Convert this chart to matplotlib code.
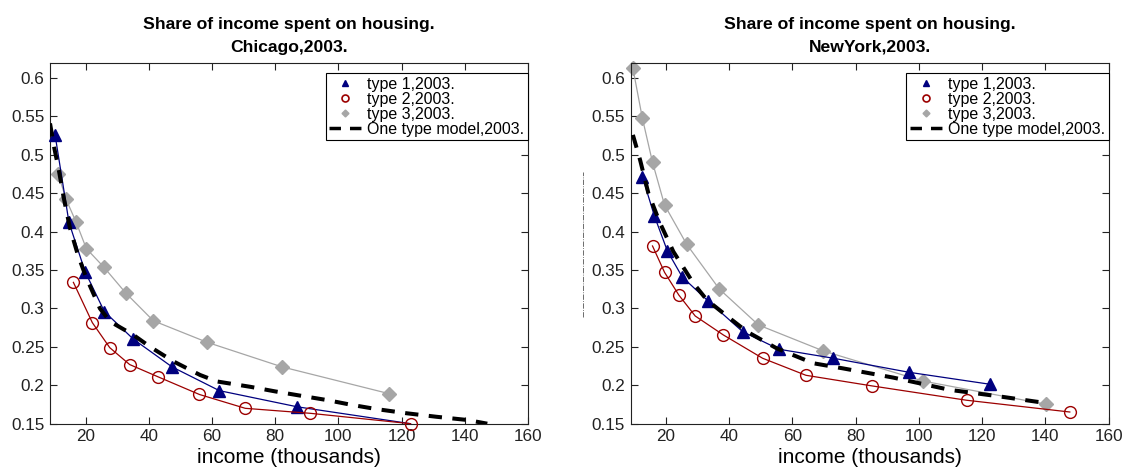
import matplotlib.pyplot as plt
from matplotlib.lines import Line2D

plt.rcParams['font.family'] = ['Liberation Sans', 'DejaVu Sans']

# Chicago, 2003
chi_t1_x = [10.3, 14.7, 19.8, 25.9, 35.1, 47.3, 62.3, 86.9, 122.8]
chi_t1_y = [0.526, 0.412, 0.348, 0.296, 0.260, 0.224, 0.193, 0.172, 0.150]
chi_t2_x = [16.1, 22.1, 27.6, 33.9, 42.9, 56.0, 70.5, 91.1, 122.8]
chi_t2_y = [0.334, 0.2815, 0.249, 0.227, 0.211, 0.188, 0.170, 0.1635, 0.150]
chi_t3_x = [11.3, 13.8, 16.9, 20.2, 25.7, 32.7, 41.4, 58.4, 82.1, 116.1]
chi_t3_y = [0.475, 0.442, 0.413, 0.378, 0.354, 0.320, 0.284, 0.256, 0.224, 0.189]
chi_m_x = [8.7, 10.0, 11.5, 13.0, 15.0, 17.5, 20.0, 24.5, 27.7, 35.1, 40.4, 47.8,
           56.2, 61.5, 72.1, 80.0, 87.9, 96.0, 104.3, 112.0, 121.7, 131.0, 140.8, 147.1]
chi_m_y = [0.541, 0.510, 0.480, 0.445, 0.405, 0.370, 0.342, 0.300, 0.283, 0.2655, 0.250, 0.231,
           0.2134, 0.205, 0.198, 0.192, 0.1865, 0.181, 0.1744, 0.169, 0.1635, 0.159, 0.1548, 0.150]

# New York, 2003
ny_t1_x = [12.6, 16.4, 20.5, 25.2, 33.3, 44.3, 55.8, 73.0, 96.9, 122.5]
ny_t1_y = [0.4716, 0.4204, 0.3749, 0.341, 0.310, 0.2698, 0.2469, 0.2352, 0.2169, 0.2013]
ny_t2_x = [15.8, 19.6, 24.1, 29.3, 38.2, 50.6, 64.3, 85.3, 115.1, 147.7]
ny_t2_y = [0.3814, 0.3471, 0.3176, 0.2902, 0.2655, 0.2352, 0.213, 0.1991, 0.1805, 0.1652]
ny_t3_x = [9.6, 12.6, 15.8, 19.6, 26.6, 36.9, 49.3, 69.8, 101.2, 140.1]
ny_t3_y = [0.6128, 0.5477, 0.4904, 0.4348, 0.3836, 0.3254, 0.2785, 0.2447, 0.2056, 0.1753]
ny_m_x = [9.6, 11.9, 14.5, 18.2, 22.4, 28.7, 33.0, 40.3, 45.6, 55.1, 66.6, 76.0,
          91.9, 109.8, 124.6, 137.2, 140.1]
ny_m_y = [0.526, 0.493, 0.450, 0.411, 0.374, 0.333, 0.311, 0.287, 0.270, 0.248, 0.2287, 0.222,
          0.210, 0.194, 0.186, 0.1786, 0.177]

xticks = [20, 40, 60, 80, 100, 120, 140, 160]
yticks = [0.15, 0.2, 0.25, 0.3, 0.35, 0.4, 0.45, 0.5, 0.55, 0.6]
ytick_labels = ['0.15', '0.2', '0.25', '0.3', '0.35', '0.4', '0.45', '0.5', '0.55', '0.6']
labels = ['type 1,2003.', 'type 2,2003.', 'type 3,2003.', 'One type model,2003.']

blue = '#00007f'
red = '#9c0000'
grey = '#a6a6a6'
dash = (0, (3.3, 2.6))

fig = plt.figure(figsize=(11.24, 4.68), dpi=100)
ax1 = fig.add_axes([0.0445, 0.0947, 0.4253, 0.7713])
ax2 = fig.add_axes([0.5611, 0.0947, 0.4253, 0.7713])

# the Chicago type 1 line ends at the last point without a marker
panels = [
    (ax1, 'Chicago', chi_t1_x, chi_t1_y, chi_t2_x, chi_t2_y, chi_t3_x, chi_t3_y, chi_m_x, chi_m_y, 8.7, len(chi_t1_x) - 1),
    (ax2, 'NewYork', ny_t1_x, ny_t1_y, ny_t2_x, ny_t2_y, ny_t3_x, ny_t3_y, ny_m_x, ny_m_y, 8.9, len(ny_t1_x)),
]

for ax, city, t1x, t1y, t2x, t2y, t3x, t3y, mx, my, x0, n1 in panels:
    ax.plot(t1x, t1y, color=blue, lw=0.9, marker='^', ms=8.5, mfc=blue, mec=blue,
            markevery=list(range(n1)), clip_on=False, zorder=3)
    ax.plot(t2x, t2y, color=red, lw=0.9, marker='o', ms=8.5, mfc='none', mec=red, mew=1.0,
            clip_on=False, zorder=3)
    ax.plot(t3x, t3y, color=grey, lw=0.9, marker='D', ms=6.8, mfc=grey, mec=grey,
            clip_on=False, zorder=2)
    ax.plot(mx, my, color='black', lw=2.9, ls=dash, zorder=4)

    h1 = Line2D([], [], ls='none', marker='^', ms=5, color=blue)
    h2 = Line2D([], [], ls='none', marker='o', ms=5, mfc='none', mec=red, mew=1.2)
    h3 = Line2D([], [], ls='none', marker='D', ms=3.5, color=grey)
    h4 = Line2D([], [], color='black', lw=2.5, ls=dash)
    leg = ax.legend([h1, h2, h3, h4], labels,
                    loc='upper right', bbox_to_anchor=(1.0, 0.971), fontsize=11.5,
                    frameon=True, fancybox=False, framealpha=1, edgecolor='black',
                    borderpad=0.22, labelspacing=0.0, handlelength=2.0, handletextpad=0.4,
                    borderaxespad=0.0)
    leg.get_frame().set_linewidth(0.8)

    ax.set_xlim(x0, 160)
    ax.set_ylim(0.15, 0.62)
    ax.set_xticks(xticks)
    ax.set_yticks(yticks)
    ax.set_yticklabels(ytick_labels)
    ax.tick_params(direction='in', top=True, right=True, labelsize=12.3, length=5,
                   width=0.8, colors='#222222', pad=4)
    for s in ax.spines.values():
        s.set_linewidth(0.8)
        s.set_color('#222222')
    ax.set_xlabel('income (thousands)', fontsize=15, labelpad=3)
    ax.set_title('Share of income spent on housing.\n' + city + ',2003.',
                 fontsize=12.6, fontweight='bold', linespacing=1.6, pad=8)

# faint dash-dot mark left of the New York axis
fig.add_artist(Line2D([0.5185, 0.5185], [0.323, 0.633], transform=fig.transFigure,
                      color='#555555', lw=0.6, ls='-.'))

fig.savefig('out.png', dpi=100)
